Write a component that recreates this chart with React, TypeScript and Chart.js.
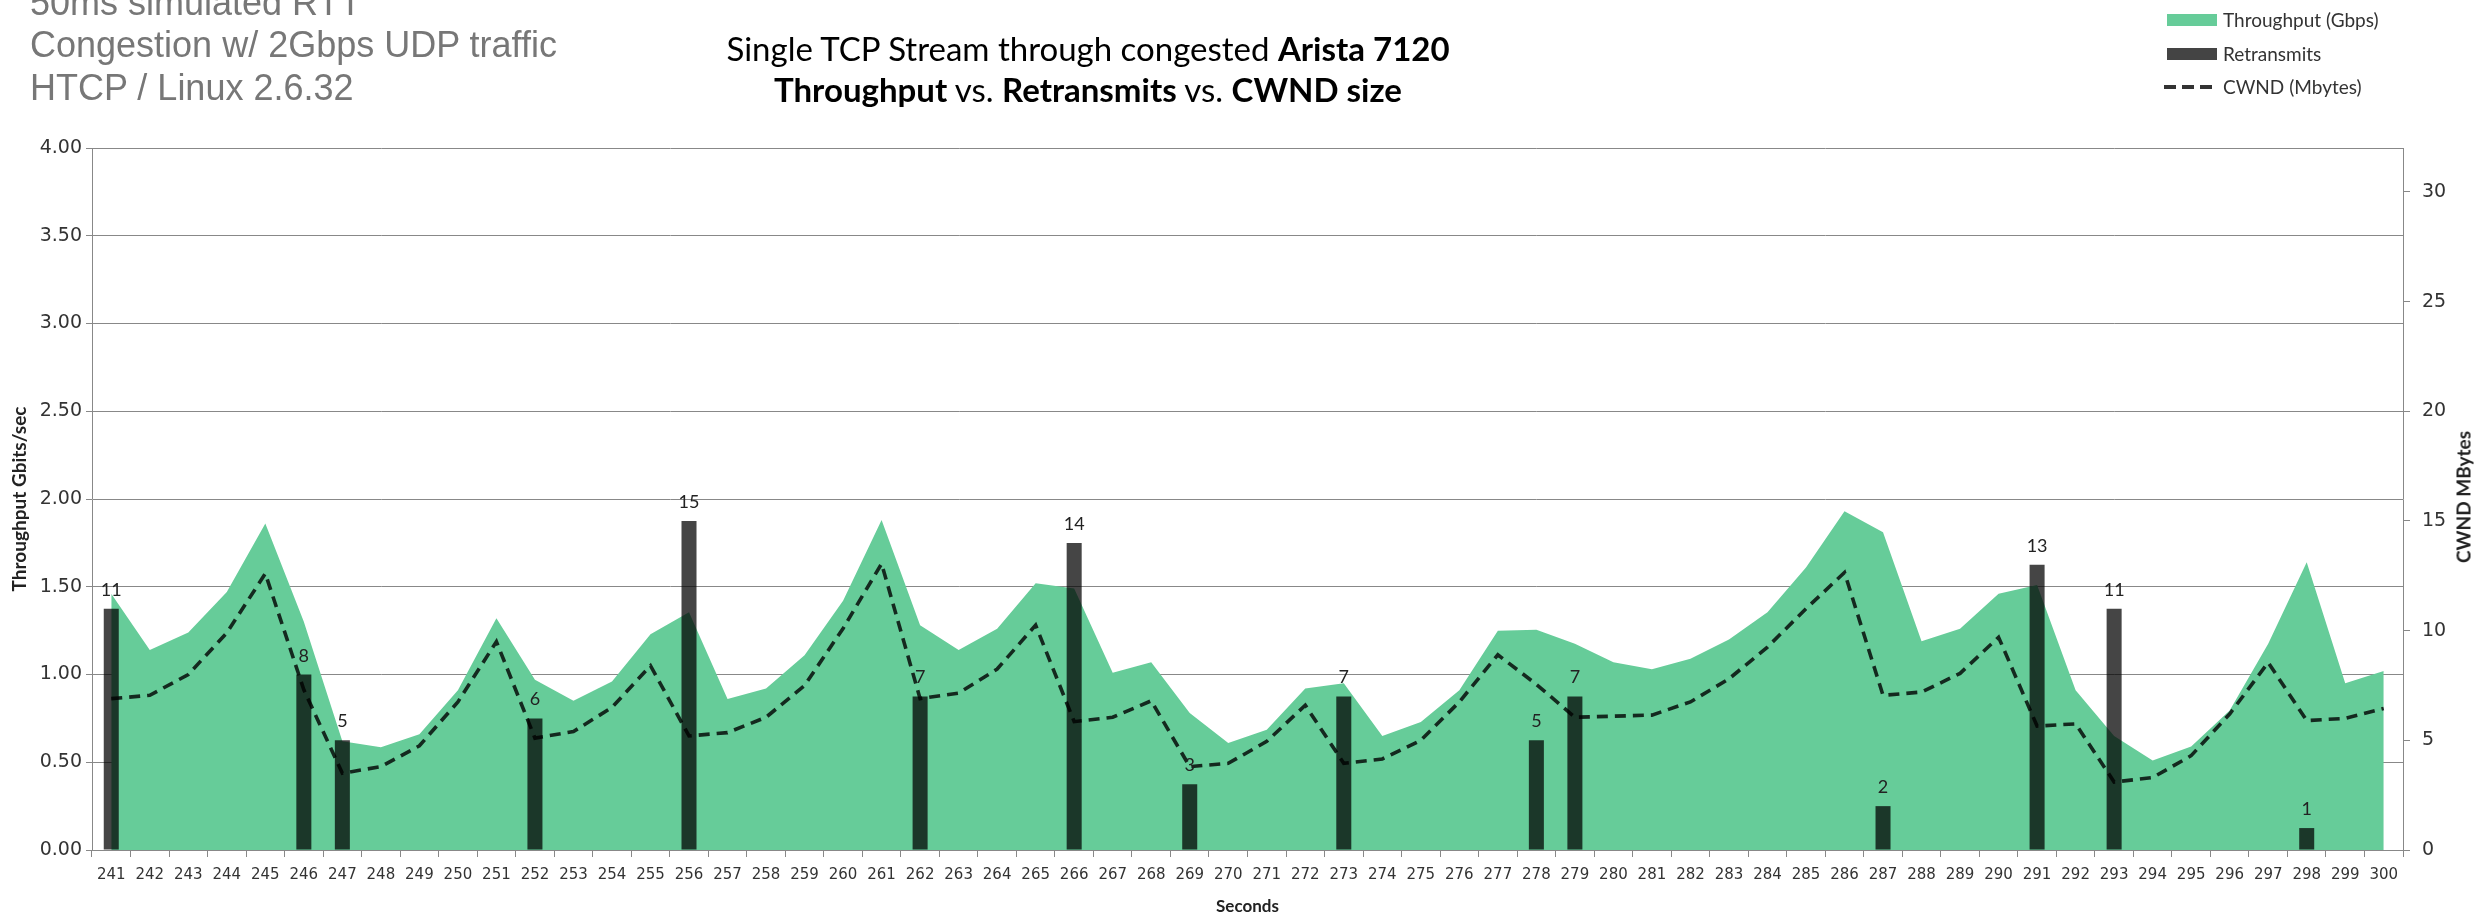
import React, { useEffect, useRef } from "react";
import { Chart, registerables } from "chart.js";

Chart.register(...registerables);

const SECONDS = [
  "241", "242", "243", "244", "245", "246", "247", "248", "249", "250",
  "251", "252", "253", "254", "255", "256", "257", "258", "259", "260",
  "261", "262", "263", "264", "265", "266", "267", "268", "269", "270",
  "271", "272", "273", "274", "275", "276", "277", "278", "279", "280",
  "281", "282", "283", "284", "285", "286", "287", "288", "289", "290",
  "291", "292", "293", "294", "295", "296", "297", "298", "299", "300",
];

const THROUGHPUT = [
  1.46, 1.14, 1.24, 1.47, 1.86, 1.3, 0.62, 0.585, 0.66, 0.91,
  1.32, 0.97, 0.85, 0.96, 1.23, 1.355, 0.86, 0.92, 1.11, 1.42,
  1.88, 1.28, 1.14, 1.26, 1.52, 1.49, 1.01, 1.07, 0.78, 0.61,
  0.685, 0.92, 0.95, 0.65, 0.73, 0.91, 1.25, 1.255, 1.175, 1.07,
  1.03, 1.09, 1.2, 1.355, 1.61, 1.93, 1.81, 1.19, 1.26, 1.46,
  1.51, 0.91, 0.65, 0.51, 0.59, 0.795, 1.175, 1.64, 0.95, 1.02,
];

const RETRANSMITS = [
  11, 0, 0, 0, 0, 8, 5, 0, 0, 0,
  0, 6, 0, 0, 0, 15, 0, 0, 0, 0,
  0, 7, 0, 0, 0, 14, 0, 0, 3, 0,
  0, 0, 7, 0, 0, 0, 0, 5, 7, 0,
  0, 0, 0, 0, 0, 0, 2, 0, 0, 0,
  13, 0, 11, 0, 0, 0, 0, 1, 0, 0,
];

const CWND = [
  6.9, 7.05, 8.0, 9.9, 12.6, 7.3, 3.5, 3.8, 4.75, 6.75,
  9.5, 5.1, 5.4, 6.5, 8.4, 5.2, 5.35, 6.05, 7.5, 10.1,
  13.05, 6.9, 7.15, 8.25, 10.25, 5.85, 6.05, 6.8, 3.8, 3.95,
  4.95, 6.6, 3.95, 4.15, 5.0, 6.75, 8.9, 7.55, 6.05, 6.1,
  6.15, 6.75, 7.8, 9.25, 11.0, 12.65, 7.05, 7.2, 8.05, 9.7,
  5.65, 5.75, 3.1, 3.3, 4.3, 6.2, 8.55, 5.9, 6.0, 6.45,
];

const LEFT_TICKS = [0, 0.5, 1, 1.5, 2, 2.5, 3, 3.5, 4];
const RIGHT_TICKS = [0, 5, 10, 15, 20, 25, 30];

const GREEN = "#66CC99";
const BAR = "rgba(0,0,0,0.73)";
const LINE = "rgba(0,0,0,0.8)";
const AXIS = "#888888";
const TICK_FONT = "DejaVu Sans";
const CAL = "Lato";

const W = 2486;
const H = 917;

const barLabels = {
  id: "barLabels",
  afterDatasetsDraw(chart: any) {
    const meta = chart.getDatasetMeta(1);
    const ctx = chart.ctx;
    ctx.save();
    ctx.font = `18px ${CAL}`;
    ctx.fillStyle = "#222";
    ctx.textAlign = "center";
    ctx.textBaseline = "alphabetic";
    meta.data.forEach((el: any, i: number) => {
      const v = RETRANSMITS[i];
      if (!v) return;
      ctx.fillText(String(v), el.x, el.y - 13);
    });
    ctx.restore();
  },
};

export default function App() {
  const ref = useRef<HTMLCanvasElement | null>(null);

  useEffect(() => {
    if (!ref.current) return;
    const chart = new Chart(ref.current, {
      type: "bar",
      data: {
        labels: SECONDS,
        datasets: [
          {
            type: "line",
            label: "Throughput (Gbps)",
            data: THROUGHPUT,
            yAxisID: "y",
            fill: "origin",
            backgroundColor: GREEN,
            borderColor: "transparent",
            borderWidth: 0,
            pointRadius: 0,
            tension: 0,
            order: 3,
          } as any,
          {
            type: "bar",
            label: "Retransmits",
            data: RETRANSMITS,
            yAxisID: "y1",
            backgroundColor: BAR,
            borderWidth: 0,
            barPercentage: 0.39,
            categoryPercentage: 1,
            order: 2,
          } as any,
          {
            type: "line",
            label: "CWND (Mbytes)",
            data: CWND,
            yAxisID: "y1",
            borderColor: LINE,
            borderWidth: 3.6,
            borderDash: [11, 7],
            pointRadius: 0,
            fill: false,
            tension: 0,
            order: 1,
          } as any,
        ],
      },
      options: {
        responsive: false,
        animation: false,
        devicePixelRatio: 1,
        layout: { padding: { top: 148, left: 0, right: 0, bottom: 0 } },
        plugins: {
          legend: { display: false },
          tooltip: { enabled: false },
          title: { display: false },
        },
        scales: {
          x: {
            offset: true,
            grid: {
              offset: true,
              drawOnChartArea: false,
              drawTicks: true,
              tickLength: 7,
              color: AXIS,
            },
            border: { color: AXIS },
            ticks: {
              autoSkip: false,
              maxRotation: 0,
              minRotation: 0,
              padding: 9,
              color: "#333",
              font: { family: TICK_FONT, size: 15 },
            },
            title: {
              display: true,
              text: "Seconds",
              color: "#222",
              font: { family: CAL, size: 17, weight: "bold" },
              padding: { top: 0, bottom: 0 },
            },
            afterFit: (s: any) => {
              s.height = 67;
            },
          },
          y: {
            position: "left",
            min: 0,
            max: 4,
            afterBuildTicks: (s: any) => {
              s.ticks = LEFT_TICKS.map((v) => ({ value: v }));
            },
            grid: { color: AXIS, tickLength: 6, drawTicks: true },
            border: { color: AXIS },
            ticks: {
              padding: 4,
              color: "#333",
              font: { family: TICK_FONT, size: 19 },
              callback: (v: any) => Number(v).toFixed(2),
            },
            title: {
              display: true,
              text: "Throughput Gbits/sec",
              color: "#222",
              font: { family: CAL, size: 19, weight: "bold" },
              padding: { top: 8, bottom: 0 },
            },
            afterFit: (s: any) => {
              s.width = 92;
            },
          },
          y1: {
            position: "right",
            min: 0,
            max: 32,
            afterBuildTicks: (s: any) => {
              s.ticks = RIGHT_TICKS.map((v) => ({ value: v }));
            },
            grid: {
              drawOnChartArea: false,
              drawTicks: true,
              tickLength: 7,
              color: AXIS,
            },
            border: { color: AXIS },
            ticks: {
              padding: 12,
              color: "#333",
              font: { family: TICK_FONT, size: 19 },
            },
            afterFit: (s: any) => {
              s.width = 83;
            },
          },
        },
      },
      plugins: [barLabels],
    });
    return () => chart.destroy();
  }, []);

  const gray = "#777";
  const line = (text: string, top: number) => (
    <div
      style={{
        position: "absolute",
        left: 30,
        top,
        fontFamily: "'Liberation Sans', Arial, sans-serif",
        fontSize: 36,
        lineHeight: "36px",
        color: gray,
        whiteSpace: "nowrap",
      }}
    >
      {text}
    </div>
  );

  const legendText: React.CSSProperties = {
    position: "absolute",
    left: 2223,
    fontFamily: CAL,
    fontSize: 19,
    lineHeight: "20px",
    color: "#333",
    whiteSpace: "nowrap",
  };

  return (
    <div
      style={{
        position: "absolute",
        left: 0,
        top: 0,
        width: W,
        height: H,
        overflow: "hidden",
        background: "#fff",
      }}
    >
      <canvas ref={ref} width={W} height={H} style={{ position: "absolute", left: 0, top: 0 }} />
      {line("50ms simulated RTT", -15)}
      {line("Congestion w/ 2Gbps UDP traffic", 27)}
      {line("HTCP / Linux 2.6.32", 70)}

      <div
        style={{
          position: "absolute",
          left: 1088,
          top: 28,
          transform: "translateX(-50%)",
          fontFamily: CAL,
          fontSize: 33,
          lineHeight: "41px",
          color: "#000",
          textAlign: "center",
          whiteSpace: "nowrap",
        }}
      >
        <div>
          Single TCP Stream through congested <b>Arista 7120</b>
        </div>
        <div>
          <b>Throughput</b> vs. <b>Retransmits</b> vs. <b>CWND size</b>
        </div>
      </div>

      <div style={{ position: "absolute", left: 2167, top: 14, width: 50, height: 12, background: GREEN }} />
      <div style={{ ...legendText, top: 10 }}>Throughput (Gbps)</div>
      <div style={{ position: "absolute", left: 2167, top: 48, width: 50, height: 12, background: "#444" }} />
      <div style={{ ...legendText, top: 44 }}>Retransmits</div>
      <svg style={{ position: "absolute", left: 2162, top: 83 }} width={54} height={8}>
        <line x1={2} y1={4} x2={52} y2={4} stroke="#333" strokeWidth={4} strokeDasharray="12 6" />
      </svg>
      <div style={{ ...legendText, top: 77 }}>CWND (Mbytes)</div>

      <div
        style={{
          position: "absolute",
          left: 2463,
          top: 497,
          transform: "translate(-50%, -50%) rotate(-90deg)",
          fontFamily: CAL,
          fontSize: 19,
          fontWeight: "bold",
          color: "#222",
          whiteSpace: "nowrap",
        }}
      >
        CWND MBytes
      </div>
    </div>
  );
}
